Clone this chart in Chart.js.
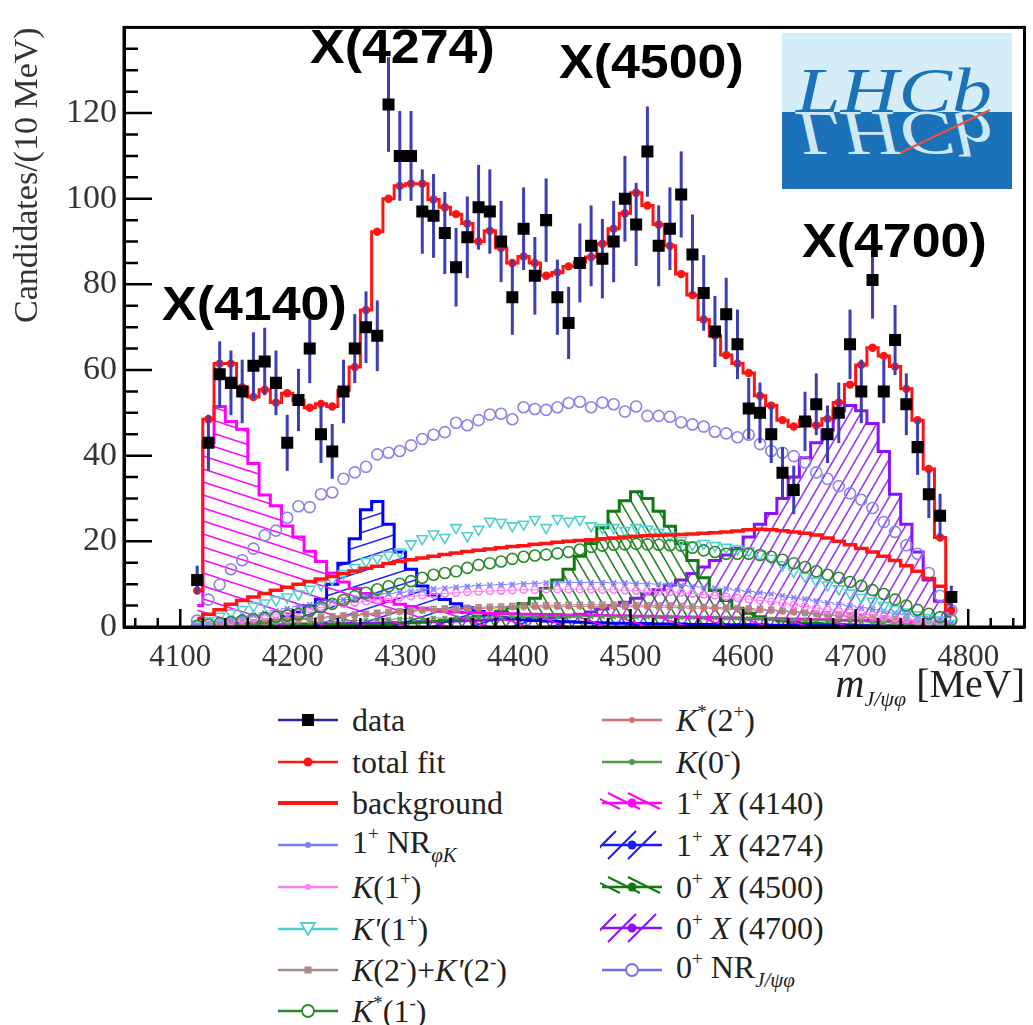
<!DOCTYPE html>
<html>
<head>
<meta charset="utf-8">
<script src="https://cdn.jsdelivr.net/npm/chart.js@4.4.1/dist/chart.umd.min.js"></script>
<style>
  html, body { margin: 0; padding: 0; background: #fff; }
  #wrap { position: relative; width: 1033px; height: 1025px; overflow: hidden;
          font-family: "Liberation Serif", "Times New Roman", serif; color: #222; }
  #massChart { position: absolute; left: 0; top: 0; }
  .peak { position: absolute; font-family: "Liberation Sans", Arial, sans-serif; font-weight: bold;
          font-size: 49px; line-height: 1; color: #000; white-space: nowrap;
          transform-origin: left top; transform: scaleX(1.06); }
  #xtitle { position: absolute; right: 8px; top: 660px; font-size: 40px; white-space: nowrap; color: #222; }
  #xtitle sub { font-size: 22px; font-style: italic; }
  .leg { position: absolute; height: 40px; display: flex; align-items: center;
         font-size: 32px; white-space: nowrap; color: #222; }
  .leg svg { flex: none; margin-right: 12px; }
  .leg sup { font-size: 19px; vertical-align: 13px; }
  .leg sub { font-size: 21px; vertical-align: -9px; font-style: italic; }
  #logo { position: absolute; left: 782px; top: 33px; }
</style>
</head>
<body>
<div id="wrap">
  <canvas id="massChart" width="1033" height="700"></canvas>

  <div class="peak" style="left:162px; top:279px;">X(4140)</div>
  <div class="peak" style="left:310px; top:22px;">X(4274)</div>
  <div class="peak" style="left:559px; top:37px;">X(4500)</div>
  <div class="peak" style="left:802px; top:216px;">X(4700)</div>

  <svg id="logo" width="230" height="156" viewBox="0 0 230 156">
    <rect x="0" y="0" width="230" height="79" fill="#d4edf8"/>
    <rect x="0" y="79" width="230" height="77" fill="#1b72b8"/>
    <text x="14" y="79" font-family="Liberation Serif" font-style="italic" font-size="64" fill="#1b72b8"
          textLength="196" lengthAdjust="spacingAndGlyphs">LHCb</text>
    <g transform="translate(0,158) scale(1,-1)">
      <text x="14" y="79" font-family="Liberation Serif" font-style="italic" font-size="64" fill="#cfe8f6"
            textLength="196" lengthAdjust="spacingAndGlyphs">LHCb</text>
    </g>
    <line x1="118" y1="120" x2="208" y2="77" stroke="#e8553a" stroke-width="2"/>
  </svg>

  <div id="xtitle"><i>m</i><sub>J/ψφ</sub> [MeV]</div>
  <div id="legend"></div>
</div>

<script>
// bin centres of the 10 MeV histogram
const masses = [
  4115, 4125, 4135, 4145, 4155, 4165, 4175, 4185, 4195, 4205,
  4215, 4225, 4235, 4245, 4255, 4265, 4275, 4285, 4295, 4305,
  4315, 4325, 4335, 4345, 4355, 4365, 4375, 4385, 4395, 4405,
  4415, 4425, 4435, 4445, 4455, 4465, 4475, 4485, 4495, 4505,
  4515, 4525, 4535, 4545, 4555, 4565, 4575, 4585, 4595, 4605,
  4615, 4625, 4635, 4645, 4655, 4665, 4675, 4685, 4695, 4705,
  4715, 4725, 4735, 4745, 4755, 4765, 4775, 4785
];

const dataCounts = [
  11, 43, 59, 57, 55, 61, 62, 57, 43, 53,
  65, 45, 41, 55, 65, 70, 68, 122, 110, 110,
  97, 96, 92, 84, 91, 98, 97, 90, 77, 93,
  82, 95, 77, 71, 85, 89, 86, 90, 100, 94,
  111, 89, 93, 101, 87, 78, 69, 73, 66, 51,
  50, 45, 36, 32, 48, 52, 45, 50, 66, 55,
  81, 55, 67, 52, 42, 31, 26, 7
];

const totalFit = [
  8.5, 48.5, 61.5, 61.5, 56, 53.7, 55.4, 52.4, 54.6, 52.9,
  51.2, 52.1, 51.5, 55.2, 60.7, 74, 92.3, 100, 103, 103.5,
  103.5, 99.8, 98, 96.4, 94.2, 90, 92.5, 88.5, 85, 86.5,
  85, 82, 82.8, 84.2, 85.2, 86.4, 89.5, 93, 96.6, 101.4,
  98.4, 94, 89, 82.4, 77.5, 71.8, 68, 63.5, 61.5, 59.3,
  54, 51.7, 48.3, 46.8, 48.3, 47.1, 48.6, 52.4, 56.6, 61.2,
  65.2, 63.3, 60.8, 55.6, 48.3, 36.9, 20.9, 3.9
];

const background = [
  2.0, 3.0, 4.0, 5.3, 6.2, 7.0, 7.8, 8.6, 9.3, 10.0,
  10.6, 11.2, 11.8, 12.5, 13.1, 13.7, 14.2, 14.8, 15.3, 15.7,
  16.1, 16.5, 16.9, 17.3, 17.6, 17.9, 18.2, 18.5, 18.8, 19.0,
  19.3, 19.5, 19.8, 20.0, 20.2, 20.4, 20.6, 20.8, 21.0, 21.2,
  21.3, 21.4, 21.5, 21.6, 21.7, 21.9, 22.0, 22.2, 22.4, 22.7,
  22.8, 22.7, 22.5, 22.2, 21.9, 21.5, 20.8, 20.0, 19.2, 18.3,
  17.5, 16.5, 15.5, 14.3, 13.0, 11.3, 9.5, 5.5
];

const nrPhiK = [
  0.3, 0.8, 1.3, 1.8, 2.3, 2.8, 3.3, 3.8, 4.3, 4.8,
  5.2, 5.6, 6.0, 6.4, 6.8, 7.2, 7.5, 7.8, 8.1, 8.4,
  8.7, 8.9, 9.1, 9.3, 9.5, 9.7, 9.8, 9.9, 10.0, 10.1,
  10.2, 10.3, 10.3, 10.4, 10.4, 10.4, 10.4, 10.3, 10.3, 10.2,
  10.1, 10.0, 9.9, 9.7, 9.5, 9.3, 9.1, 8.9, 8.6, 8.3,
  8.0, 7.7, 7.3, 6.9, 6.5, 6.1, 5.7, 5.3, 4.9, 4.5,
  4.1, 3.7, 3.3, 2.9, 2.5, 2.0, 1.5, 0.8
];

const k1p = [
  0.2, 0.6, 1.0, 1.4, 1.8, 2.2, 2.6, 3.0, 3.4, 3.8,
  4.2, 4.6, 5.0, 5.4, 5.7, 6.0, 6.3, 6.6, 6.9, 7.2,
  7.4, 7.6, 7.8, 8.0, 8.2, 8.3, 8.4, 8.5, 8.6, 8.7,
  8.7, 8.8, 8.8, 8.8, 8.8, 8.8, 8.7, 8.7, 8.6, 8.5,
  8.4, 8.3, 8.2, 8.0, 7.8, 7.6, 7.4, 7.1, 6.8, 6.5,
  6.2, 5.9, 5.6, 5.2, 4.8, 4.4, 4.0, 3.7, 3.4, 3.1,
  2.8, 2.5, 2.2, 1.9, 1.6, 1.3, 0.9, 0.5
];

const kPrime1p = [
  0.5, 1.5, 2.5, 3.3, 4.1, 4.9, 5.6, 6.3, 7.0, 7.7,
  8.8, 9.9, 11.1, 12.5, 13.9, 15.3, 16.0, 16.8, 17.5, 19.4,
  20.6, 21.7, 20.9, 23.2, 21.3, 22.8, 24.7, 24.4, 23.6, 24.0,
  25.1, 23.2, 25.3, 24.7, 25.1, 23.6, 23.2, 23.2, 22.5, 23.2,
  22.8, 22.1, 21.3, 20.2, 19.2, 19.5, 19.0, 18.6, 18.2, 17.8,
  17.0, 16.0, 14.5, 13.0, 11.8, 10.7, 9.8, 8.9, 7.9, 6.9,
  6.0, 5.0, 4.2, 3.5, 2.8, 2.2, 1.6, 0.8
];

const k2m = [
  0.1, 0.3, 0.5, 0.7, 0.9, 1.1, 1.3, 1.5, 1.7, 1.9,
  2.1, 2.3, 2.5, 2.7, 2.9, 3.1, 3.3, 3.5, 3.7, 3.9,
  4.0, 4.2, 4.3, 4.4, 4.5, 4.6, 4.7, 4.8, 4.9, 5.0,
  5.0, 5.1, 5.1, 5.2, 5.2, 5.2, 5.2, 5.2, 5.2, 5.1,
  5.1, 5.0, 5.0, 4.9, 4.8, 4.7, 4.6, 4.5, 4.4, 4.3,
  4.2, 4.0, 3.8, 3.6, 3.4, 3.2, 3.0, 2.8, 2.6, 2.4,
  2.2, 2.0, 1.8, 1.6, 1.3, 1.0, 0.7, 0.4
];

const kStar1m = [
  0.3, 0.6, 0.9, 1.2, 1.5, 1.8, 2.1, 2.4, 2.7, 3.0,
  3.8, 4.6, 5.4, 6.3, 7.2, 8.0, 8.8, 9.5, 10.1, 10.7,
  11.5, 12.2, 12.6, 13.0, 13.8, 14.5, 14.9, 15.3, 15.9, 16.4,
  16.7, 16.9, 17.2, 17.5, 18.1, 18.7, 19.0, 19.2, 19.3, 19.4,
  19.3, 19.2, 19.1, 19.0, 18.5, 17.9, 17.5, 17.1, 17.1, 17.1,
  16.8, 16.4, 15.7, 14.9, 14.0, 13.0, 12.2, 11.5, 10.5, 9.6,
  8.6, 7.7, 6.4, 5.0, 4.0, 3.1, 2.3, 1.6
];

const kStar2p = [
  0.1, 0.2, 0.3, 0.5, 0.7, 0.9, 1.1, 1.3, 1.5, 1.7,
  1.9, 2.1, 2.3, 2.5, 2.7, 2.9, 3.1, 3.3, 3.5, 3.7,
  3.8, 3.9, 4.0, 4.1, 4.2, 4.3, 4.4, 4.5, 4.6, 4.6,
  4.7, 4.7, 4.7, 4.8, 4.8, 4.8, 4.8, 4.8, 4.7, 4.7,
  4.7, 4.6, 4.6, 4.5, 4.4, 4.4, 4.3, 4.2, 4.1, 4.0,
  3.9, 3.8, 3.6, 3.4, 3.2, 3.0, 2.8, 2.6, 2.4, 2.2,
  2.0, 1.8, 1.6, 1.4, 1.1, 0.9, 0.6, 0.3
];

const k0m = [
  0.1, 0.2, 0.3, 0.4, 0.5, 0.6, 0.7, 0.8, 0.9, 1.0,
  1.1, 1.2, 1.3, 1.4, 1.5, 1.6, 1.7, 1.8, 1.9, 2.0,
  2.0, 2.1, 2.1, 2.2, 2.2, 2.3, 2.3, 2.3, 2.4, 2.4,
  2.4, 2.4, 2.4, 2.4, 2.4, 2.4, 2.4, 2.4, 2.4, 2.3,
  2.3, 2.3, 2.3, 2.2, 2.2, 2.2, 2.1, 2.1, 2.0, 2.0,
  1.9, 1.9, 1.8, 1.7, 1.7, 1.6, 1.5, 1.4, 1.3, 1.2,
  1.1, 1.0, 0.9, 0.8, 0.7, 0.5, 0.4, 0.2
];

const x4140 = [
  5.0, 43.0, 51.5, 48.0, 46.2, 38.2, 30.8, 28.3, 23.6, 21.0,
  17.7, 15.3, 12.6, 10.5, 9.0, 7.8, 6.8, 6.0, 5.3, 4.8,
  4.4, 4.0, 3.7, 3.5, 3.4, 3.3, 3.2, 3.1, 3.1, 3.0,
  3.0, 2.9, 2.9, 2.8, 2.8, 2.7, 2.7, 2.6, 2.6, 2.5,
  2.5, 2.4, 2.4, 2.3, 2.3, 2.2, 2.2, 2.1, 2.1, 2.0,
  2.0, 1.9, 1.9, 1.8, 1.8, 1.7, 1.7, 1.6, 1.6, 1.5,
  1.5, 1.4, 1.4, 1.3, 1.2, 1.1, 1.0, 0.6
];

const x4274 = [
  0.3, 0.4, 0.5, 0.6, 0.8, 1.0, 1.2, 1.6, 2.5, 3.5,
  5.0, 6.5, 10.0, 14.9, 20.6, 27.4, 29.3, 24.0, 17.5, 13.5,
  9.6, 7.5, 6.4, 5.4, 4.5, 3.6, 2.8, 2.2, 1.9, 1.7,
  1.5, 1.4, 1.3, 1.2, 1.1, 1.0, 1.0, 0.9, 0.9, 0.8,
  0.8, 0.7, 0.7, 0.7, 0.6, 0.6, 0.6, 0.5, 0.5, 0.5,
  0.5, 0.4, 0.4, 0.4, 0.4, 0.3, 0.3, 0.3, 0.3, 0.3,
  0.3, 0.2, 0.2, 0.2, 0.2, 0.2, 0.1, 0.1
];

const x4500 = [
  0.2, 0.2, 0.2, 0.2, 0.2, 0.3, 0.3, 0.3, 0.3, 0.3,
  0.4, 0.4, 0.4, 0.5, 0.5, 0.6, 0.6, 0.7, 0.8, 1.0,
  1.1, 1.3, 1.5, 1.8, 2.1, 2.5, 3.0, 3.7, 4.5, 5.5,
  6.7, 9.0, 11.0, 13.5, 16.5, 19.5, 23.2, 27.0, 29.5, 31.6,
  30.0, 27.0, 23.5, 19.5, 15.5, 11.5, 8.5, 6.2, 4.4, 3.2,
  2.4, 1.8, 1.4, 1.1, 0.9, 0.8, 0.7, 0.6, 0.5, 0.4,
  0.4, 0.3, 0.3, 0.3, 0.2, 0.2, 0.2, 0.1
];

const x4700 = [
  0.3, 0.3, 0.3, 0.4, 0.4, 0.4, 0.5, 0.5, 0.5, 0.6,
  0.6, 0.7, 0.7, 0.8, 0.8, 0.9, 0.9, 1.0, 1.0, 1.1,
  1.2, 1.2, 1.3, 1.4, 1.5, 1.6, 1.7, 1.8, 1.9, 2.0,
  2.1, 2.2, 2.3, 2.5, 3.0, 3.5, 4.2, 5.0, 5.8, 6.7,
  7.7, 8.7, 9.8, 11.0, 12.5, 14.0, 15.5, 16.8, 18.3, 21.0,
  24.0, 26.5, 30.0, 35.0, 39.5, 43.0, 46.0, 50.5, 51.7, 50.5,
  47.5, 41.0, 31.0, 24.0, 17.5, 11.0, 6.0, 2.5
];

const nrJpsiPhi = [
  1.5, 6.4, 9.9, 13.5, 15.6, 18.3, 21.4, 22.5, 25.5, 28.2,
  28.0, 31.0, 31.4, 34.6, 36.1, 37.4, 40.3, 40.7, 41.1, 42.4,
  43.9, 44.9, 45.5, 47.7, 47.1, 48.3, 49.6, 49.8, 48.5, 51.3,
  50.9, 50.7, 51.3, 52.3, 52.6, 51.3, 52.4, 52.0, 50.3, 51.5,
  49.3, 49.3, 49.1, 47.8, 47.3, 46.8, 45.6, 45.2, 44.3, 44.9,
  42.7, 41.1, 40.7, 39.9, 38.4, 36.1, 34.6, 32.9, 31.2, 29.7,
  27.8, 24.5, 22.2, 19.1, 17.1, 12.6, 7.3, 3.9
];

const xTickValues = [4100, 4200, 4300, 4400, 4500, 4600, 4700, 4800];
const yTickValues = [0, 20, 40, 60, 80, 100, 120];

function pts(arr) {
  return masses.map((m, i) => ({ x: m, y: arr[i] }));
}

// diagonal hatch tile, one line corner to corner
function hatch(color, w, h, rising) {
  const c = document.createElement("canvas");
  c.width = w;
  c.height = h;
  const g = c.getContext("2d");
  g.strokeStyle = color;
  g.lineWidth = 1.6;
  for (const [ox, oy] of [[0, 0], [-w, 0], [w, 0], [0, -h], [0, h]]) {
    g.beginPath();
    if (rising) { g.moveTo(ox, oy + h); g.lineTo(ox + w, oy); }
    else { g.moveTo(ox, oy); g.lineTo(ox + w, oy + h); }
    g.stroke();
  }
  return g.createPattern(c, "repeat");
}

const clear = "rgba(0,0,0,0)";

function markerSet(label, arr, color, style, radius, extra) {
  return Object.assign({
    label: label,
    data: pts(arr),
    showLine: false,
    pointStyle: style,
    pointRadius: radius,
    borderColor: color,
    pointBackgroundColor: clear,
    pointBorderWidth: 1.6,
  }, extra || {});
}

function histSet(label, arr, color, pattern) {
  return {
    label: label,
    data: pts(arr),
    stepped: "middle",
    borderColor: color,
    borderWidth: 3,
    pointRadius: 0,
    fill: "origin",
    backgroundColor: pattern,
  };
}

const errorBars = {
  id: "errorBars",
  beforeDatasetDraw(chart, args) {
    if (args.index !== 0) return;
    const { ctx, scales: { x, y } } = chart;
    ctx.save();
    ctx.strokeStyle = "#3d3db4";
    ctx.lineWidth = 3;
    masses.forEach((m, i) => {
      const err = Math.sqrt(dataCounts[i]);
      const px = x.getPixelForValue(m);
      ctx.beginPath();
      ctx.moveTo(px, y.getPixelForValue(dataCounts[i] - err));
      ctx.lineTo(px, y.getPixelForValue(dataCounts[i] + err));
      ctx.stroke();
    });
    ctx.restore();
  },
};

// ROOT style frame with inward ticks
const frame = {
  id: "frame",
  afterDatasetsDraw(chart) {
    const { ctx, chartArea: a, scales: { x, y } } = chart;
    ctx.save();
    ctx.strokeStyle = "#000";
    ctx.lineWidth = 3;
    ctx.strokeRect(a.left, a.top, a.right - a.left, a.bottom - a.top);
    ctx.lineWidth = 2.5;
    ctx.beginPath();
    for (let v = 4060; v < 4850; v += 20) {
      const px = x.getPixelForValue(v);
      const len = v % 100 === 0 ? 18 : 9;
      ctx.moveTo(px, a.bottom);
      ctx.lineTo(px, a.bottom - len);
    }
    for (let v = 5; v < 140; v += 5) {
      const py = y.getPixelForValue(v);
      const len = v % 20 === 0 ? 28 : 14;
      ctx.moveTo(a.left, py);
      ctx.lineTo(a.left + len, py);
    }
    ctx.stroke();
    ctx.restore();
  },
};

const serif = "'Liberation Serif', 'Times New Roman', serif";

new Chart(document.getElementById("massChart"), {
  type: "line",
  data: {
    datasets: [
      {
        label: "data",
        data: pts(dataCounts),
        showLine: false,
        pointStyle: "rect",
        pointRadius: 8.5,
        pointBackgroundColor: "#000",
        pointBorderWidth: 0,
        borderColor: "#000",
      },
      {
        label: "total fit",
        data: pts(totalFit),
        stepped: "middle",
        borderColor: "#ff1414",
        borderWidth: 3,
        pointRadius: 4.2,
        pointBackgroundColor: "#ff1414",
        pointBorderWidth: 0,
        fill: false,
      },
      {
        label: "background",
        data: pts(background),
        stepped: "middle",
        borderColor: "#ff1414",
        borderWidth: 3.5,
        pointRadius: 0,
        fill: false,
      },
      markerSet("0+ NR J/psi phi", nrJpsiPhi, "#8585ea", "circle", 5.5),
      markerSet("K*(1-)", kStar1m, "#2a8a2a", "circle", 5.5),
      markerSet("K'(1+)", kPrime1p, "#4fd0d0", "triangle", 6, { pointRotation: 180 }),
      markerSet("1+ NR phiK", nrPhiK, "#8080ff", "crossRot", 3.5, { showLine: true, stepped: "middle", borderWidth: 1 }),
      markerSet("K(1+)", k1p, "#ff7cff", "circle", 3.5, { showLine: true, stepped: "middle", borderWidth: 1 }),
      markerSet("K(2-)+K'(2-)", k2m, "#a88a8a", "rect", 3.5, { showLine: true, stepped: "middle", borderWidth: 1 }),
      markerSet("K*(2+)", kStar2p, "#d47070", "star", 3.5, { showLine: true, stepped: "middle", borderWidth: 1 }),
      markerSet("K(0-)", k0m, "#4f9a4f", "crossRot", 3, { showLine: true, stepped: "middle", borderWidth: 1 }),
      histSet("1+ X(4140)", x4140, "#ff00ff", hatch("#ff00ff", 40, 13, false)),
      histSet("1+ X(4274)", x4274, "#0000ff", hatch("#2020ff", 40, 13, true)),
      histSet("0+ X(4500)", x4500, "#0f7a0f", hatch("#1f7f1f", 11, 19, false)),
      histSet("0+ X(4700)", x4700, "#8a10ff", hatch("#9a30ff", 11, 19, true)),
    ],
  },
  options: {
    responsive: false,
    animation: false,
    devicePixelRatio: 1,
    layout: { padding: { top: 13, right: 8, left: 0, bottom: 0 } },
    plugins: {
      legend: { display: false },
      tooltip: { enabled: false },
    },
    scales: {
      x: {
        type: "linear",
        min: 4050,
        max: 4850,
        afterBuildTicks: (s) => { s.ticks = xTickValues.map((v) => ({ value: v })); },
        afterFit: (s) => { s.height = 73; },
        ticks: {
          font: { family: serif, size: 31 },
          color: "#333",
          padding: 12,
          maxRotation: 0,
          autoSkip: false,
          callback: (v) => String(v),
        },
        grid: { display: false, drawTicks: false },
        border: { display: true, color: "#000", width: 3 },
      },
      y: {
        type: "linear",
        min: 0,
        max: 140,
        afterBuildTicks: (s) => { s.ticks = yTickValues.map((v) => ({ value: v })); },
        afterFit: (s) => { s.width = 124; },
        ticks: {
          font: { family: serif, size: 34 },
          color: "#333",
          padding: 7,
          callback: (v) => String(v),
        },
        grid: { display: false, drawTicks: false },
        border: { display: true, color: "#000", width: 3 },
        title: {
          display: true,
          text: "Candidates/(10 MeV)",
          align: "end",
          color: "#333",
          font: { family: serif, size: 34 },
          padding: { top: 8, bottom: 0 },
        },
      },
    },
  },
  plugins: [errorBars, frame],
});

// legend, two columns as in the paper figure
function hatchIcon(color, rising) {
  let s = "";
  for (const dx of [-14, 6, 26]) {
    if (rising) s += `<line x1="${dx + 2}" y1="34" x2="${dx + 30}" y2="6" stroke="${color}" stroke-width="2"/>`;
    else s += `<line x1="${dx + 2}" y1="10" x2="${dx + 34}" y2="26" stroke="${color}" stroke-width="2"/>`;
  }
  return s;
}

function icon(item) {
  const c = item.color;
  let s = `<svg width="64" height="40" viewBox="0 0 64 40">`;
  if (item.hatch) s += hatchIcon(c, item.hatch === "rise");
  s += `<line x1="2" y1="20" x2="62" y2="20" stroke="${c}" stroke-width="${item.lw || 2.5}"/>`;
  const m = item.marker;
  if (m === "square") s += `<rect x="26" y="14" width="12" height="12" fill="#000"/>`;
  if (m === "dot") s += `<circle cx="32" cy="20" r="4.5" fill="${c}"/>`;
  if (m === "small") s += `<circle cx="32" cy="20" r="3" fill="${c}"/>`;
  if (m === "open") s += `<circle cx="32" cy="20" r="6" fill="#fff" stroke="${c}" stroke-width="1.8"/>`;
  if (m === "tri") s += `<path d="M25 14 L39 14 L32 26 Z" fill="#fff" stroke="${c}" stroke-width="1.8"/>`;
  if (m === "rect") s += `<rect x="28.5" y="16.5" width="7" height="7" fill="${c}"/>`;
  s += `</svg>`;
  return s;
}

const legendItems = [
  { x: 276, y: 720, color: "#2626a8", marker: "square", html: "data" },
  { x: 276, y: 762, color: "#ff1414", marker: "dot", html: "total fit" },
  { x: 276, y: 803, color: "#ff1414", lw: 4, html: "background" },
  { x: 276, y: 845, color: "#7d7dff", marker: "small", html: "1<sup>+</sup> NR<sub>φK</sub>" },
  { x: 276, y: 887, color: "#ff7cff", marker: "small", html: "<i>K</i>(1<sup>+</sup>)" },
  { x: 276, y: 929, color: "#4fd0d0", marker: "tri", html: "<i>K'</i>(1<sup>+</sup>)" },
  { x: 276, y: 970, color: "#a88a8a", marker: "rect", html: "<i>K</i>(2<sup>-</sup>)+<i>K'</i>(2<sup>-</sup>)" },
  { x: 276, y: 1011, color: "#2a8a2a", marker: "open", html: "<i>K</i><sup>*</sup>(1<sup>-</sup>)" },
  { x: 600, y: 720, color: "#d47070", marker: "small", html: "<i>K</i><sup>*</sup>(2<sup>+</sup>)" },
  { x: 600, y: 762, color: "#4f9a4f", marker: "small", html: "<i>K</i>(0<sup>-</sup>)" },
  { x: 600, y: 803, color: "#ff00ff", marker: "dot", hatch: "fall", html: "1<sup>+</sup> <i>X</i> (4140)" },
  { x: 600, y: 845, color: "#1a1aff", marker: "dot", hatch: "rise", html: "1<sup>+</sup> <i>X</i> (4274)" },
  { x: 600, y: 887, color: "#0f7a0f", marker: "dot", hatch: "fall", html: "0<sup>+</sup> <i>X</i> (4500)" },
  { x: 600, y: 928, color: "#8a10ff", marker: "dot", hatch: "rise", html: "0<sup>+</sup> <i>X</i> (4700)" },
  { x: 600, y: 970, color: "#7070e8", marker: "open", html: "0<sup>+</sup> NR<sub>J/ψφ</sub>" },
];

const legendBox = document.getElementById("legend");
legendItems.forEach((item) => {
  const d = document.createElement("div");
  d.className = "leg";
  d.style.left = item.x + "px";
  d.style.top = (item.y - 20) + "px";
  d.innerHTML = icon(item) + `<span>${item.html}</span>`;
  legendBox.appendChild(d);
});
</script>
</body>
</html>
